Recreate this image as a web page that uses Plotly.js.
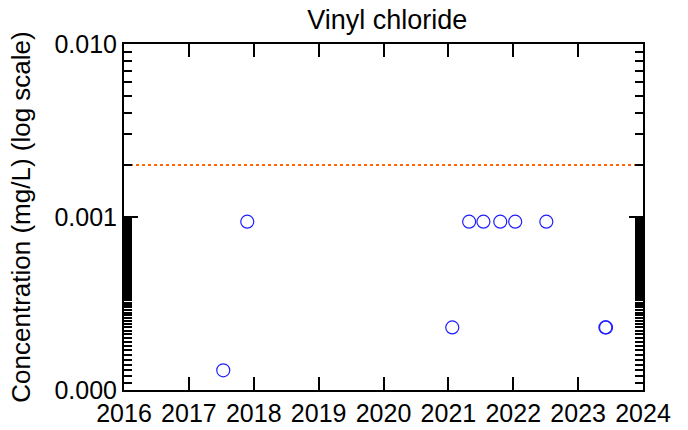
<!DOCTYPE html>
<html>
<head>
<meta charset="utf-8">
<script src="https://cdn.plot.ly/plotly-3.0.1.min.js"></script>
<style>html,body{margin:0;padding:0;background:#fff;}#chart{width:688px;height:430px;}</style>
</head>
<body>
<div id="chart"></div>
<script>
// Sample dates (decimal years) and concentrations (mg/L)
const sampleYears = [2017.53, 2017.90, 2021.06, 2021.32, 2021.54, 2021.80, 2022.03, 2022.51, 2023.42, 2023.43];
const concentrations = [0.00013, 0.00094, 0.00023, 0.00094, 0.00094, 0.00094, 0.00094, 0.00094, 0.00023, 0.00023];
// Screening level
const limitYears = [2016, 2024];
const limitValues = [0.002, 0.002];
// Axis ticks
const yearTicks = [2016, 2017, 2018, 2019, 2020, 2021, 2022, 2023, 2024];
const yTickVals = [0.0001, 0.001, 0.01];
const yTickText = ['0.000', '0.001', '0.010'];
const yMinorUpper = [0.002, 0.003, 0.004, 0.005, 0.006, 0.007, 0.008, 0.009];
const yMinorLower = [];
for (let k = 11; k <= 99; k++) yMinorLower.push(k / 100000);

const font = 'Liberation Sans, Arial, sans-serif';

const traces = [
  {
    x: limitYears, y: limitValues, type: 'scatter', mode: 'lines',
    line: {color: 'rgb(255,102,0)', width: 2, dash: '3px,3px'},
    hoverinfo: 'skip', showlegend: false
  },
  {
    x: sampleYears, y: concentrations, type: 'scatter', mode: 'markers',
    marker: {symbol: 'circle-open', size: 13, color: 'rgb(30,30,255)', line: {width: 1.2}},
    showlegend: false
  }
];

const layout = {
  width: 688, height: 430,
  margin: {l: 124, r: 45, t: 44, b: 40},
  paper_bgcolor: '#fff', plot_bgcolor: '#fff',
  showlegend: false,
  title: {text: 'Vinyl chloride', font: {family: font, size: 27, color: '#000'}, x: 0.563, xanchor: 'center', y: 0.955, yanchor: 'middle'},
  xaxis: {
    range: [2016, 2024], tickmode: 'array', tickvals: yearTicks, ticktext: yearTicks.map(String),
    ticks: 'inside', ticklen: 13, tickwidth: 2, tickcolor: '#000',
    showline: true, linewidth: 2, linecolor: '#000', mirror: 'ticks',
    showgrid: false, zeroline: false,
    tickfont: {family: font, size: 25, color: '#000'}
  },
  yaxis: {
    type: 'log', range: [-4, -2],
    tickmode: 'array', tickvals: yTickVals, ticktext: yTickText,
    ticks: 'inside', ticklen: 14, tickwidth: 2, tickcolor: '#000',
    minor: {tickmode: 'array', tickvals: yMinorUpper.concat(yMinorLower), ticks: 'inside', ticklen: 8, tickwidth: 2, tickcolor: '#000', showgrid: false},
    showline: true, linewidth: 2, linecolor: '#000', mirror: 'ticks',
    showgrid: false, zeroline: false,
    tickfont: {family: font, size: 25, color: '#000'},
    title: {text: 'Concentration (mg/L) (log scale)', font: {family: font, size: 26, color: '#000'}, standoff: 16}
  }
};

Plotly.newPlot('chart', traces, layout, {staticPlot: true, displayModeBar: false});
</script>
</body>
</html>
